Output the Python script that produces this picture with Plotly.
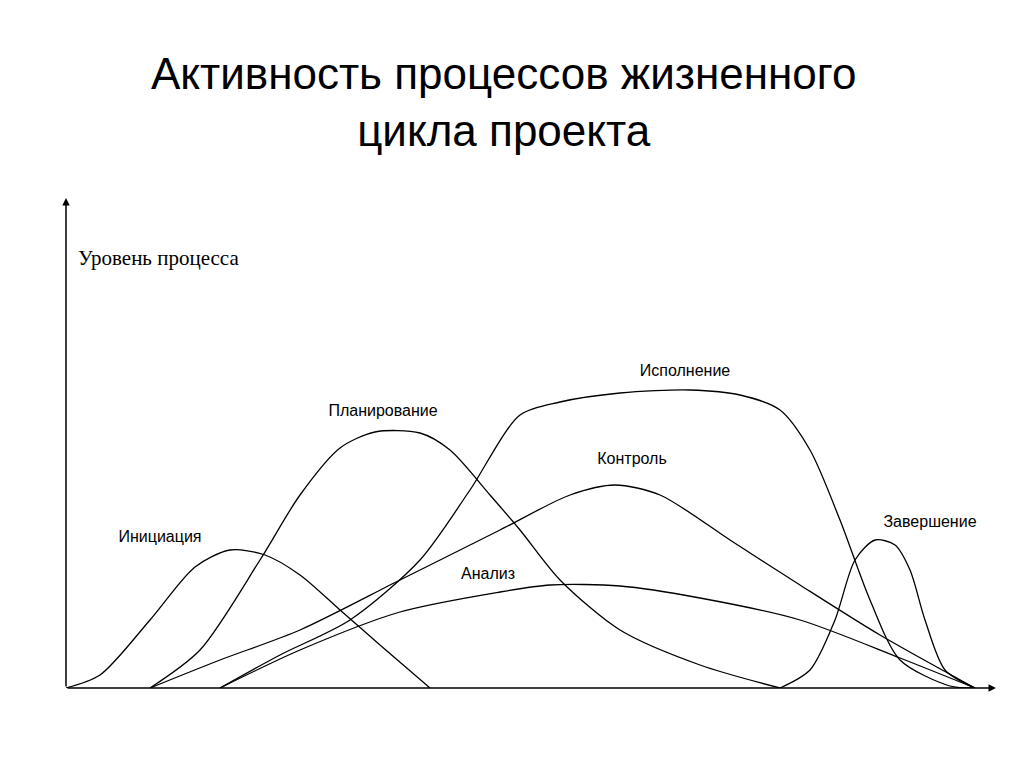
import plotly.graph_objects as go

# pixel-estimated points converted: x = px-66, y = 688-py
def cx(v): return [p - 66 for p in v]
def cy(v): return [688 - p for p in v]

init_x = cx([66,100,150,195,230,265,300,340,380,430])
init_y = cy([688,675,620,567,550,555,575,610,645,688])
plan_x = cx([150,200,260,300,340,375,420,450,490,520,560,620,700,780])
plan_y = cy([688,650,560,495,448,432,433,450,495,530,580,630,665,688])
exec_x = cx([220,280,350,420,470,520,560,620,690,740,780,810,840,870,900,950,975])
exec_y = cy([688,655,620,560,490,415,402,393,390,395,410,450,520,600,660,686,688])
ctrl_x = cx([150,220,300,400,500,570,615,660,730,800,880,975])
ctrl_y = cy([688,660,630,580,530,495,485,495,540,585,635,688])
anal_x = cx([220,300,400,500,550,620,700,800,900,975])
anal_y = cy([688,650,612,592,585,586,598,620,658,688])
fin_x = cx([780,810,835,855,875,895,910,925,945,975])
fin_y = cy([688,670,620,560,540,545,570,620,670,688])

labels = ["Инициация", "Планирование", "Исполнение", "Контроль", "Анализ", "Завершение"]
label_x = cx([160, 383, 685, 632, 488, 930])
label_y = cy([538, 412, 372, 460, 575, 523])

fig = go.Figure()
for xs, ys in [(init_x, init_y), (plan_x, plan_y), (exec_x, exec_y),
               (ctrl_x, ctrl_y), (anal_x, anal_y), (fin_x, fin_y)]:
    fig.add_trace(go.Scatter(x=xs, y=ys, mode="lines", line=dict(color="black", width=1.3, shape="spline", smoothing=0.8),
                             showlegend=False, hoverinfo="skip"))

fig.add_trace(go.Scatter(x=label_x, y=label_y, mode="text", text=labels,
                         textfont=dict(family="Liberation Sans", size=16, color="black"),
                         showlegend=False, hoverinfo="skip"))

fig.add_annotation(x=0, y=490, ax=0, ay=0, xref="x", yref="y", axref="x", ayref="y",
                   showarrow=True, arrowhead=2, arrowsize=1, arrowwidth=1.5, arrowcolor="black", text="")
fig.add_annotation(x=930, y=0, ax=0, ay=0, xref="x", yref="y", axref="x", ayref="y",
                   showarrow=True, arrowhead=2, arrowsize=1, arrowwidth=1.5, arrowcolor="black", text="")

fig.add_annotation(x=10, y=430, xref="x", yref="y", text="Уровень процесса", showarrow=False, xanchor="left",
                   font=dict(family="Liberation Serif", size=21, color="black"))
fig.add_annotation(x=-10, y=-30, xref="x", yref="y", text="Начало", showarrow=False,
                   font=dict(family="Liberation Serif", size=21, color="black"))
fig.add_annotation(x=875, y=-30, xref="x", yref="y", text="Завершение", showarrow=False,
                   font=dict(family="Liberation Serif", size=21, color="black"))

fig.add_annotation(x=0.47, y=1.196, xref="paper", yref="paper", yanchor="middle",
                   text="Активность процессов жизненного<br>цикла проекта", showarrow=False,
                   font=dict(family="Liberation Sans", size=44, color="black"))

fig.update_layout(
    width=1024, height=768, paper_bgcolor="white", plot_bgcolor="white",
    margin=dict(l=58, r=36, t=190, b=88),
    xaxis=dict(range=[0, 930], visible=False, fixedrange=True),
    yaxis=dict(range=[0, 490], visible=False, fixedrange=True),
)
fig.write_html("out.html")
